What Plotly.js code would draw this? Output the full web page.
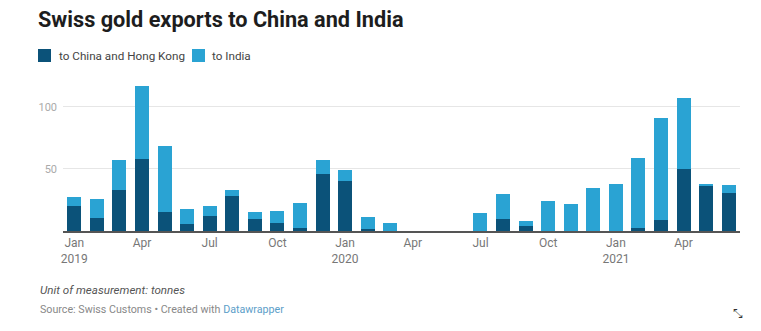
<!DOCTYPE html>
<html>
<head>
<meta charset="utf-8">
<script src="https://cdn.plot.ly/plotly-3.0.1.min.js"></script>
<style>html,body{margin:0;padding:0;background:#fff;}#chart{width:761px;height:331px;}</style>
</head>
<body>
<div id="chart"></div>
<script>
// Months Jan 2019 – Jun 2021
var months = ["2019-01","2019-02","2019-03","2019-04","2019-05","2019-06","2019-07","2019-08","2019-09","2019-10","2019-11","2019-12",
              "2020-01","2020-02","2020-03","2020-04","2020-05","2020-06","2020-07","2020-08","2020-09","2020-10","2020-11","2020-12",
              "2021-01","2021-02","2021-03","2021-04","2021-05","2021-06"];
// tonnes
var chinaHK = [20, 10.5, 33, 58, 15, 5.5, 12, 28, 10, 6.5, 2.5, 46,
               40, 2, 0.3, 0, 0, 0, 0, 10, 4, 0, 0, 0,
               0, 2.5, 9, 50, 36, 31];
var india   = [7, 15.5, 24, 59, 53.5, 12.5, 8, 5, 5, 10, 20, 11,
               9, 9, 6.2, 0, 0, 0, 14.5, 19.5, 4, 24, 21.5, 34.5,
               38, 56.5, 82, 57, 2, 6];
var seriesNames = ["to China and Hong Kong", "to India"];
var tickMonths = ["2019-01","2019-04","2019-07","2019-10","2020-01","2020-04","2020-07","2020-10","2021-01","2021-04"];
var tickLabels = ["Jan<br>2019","Apr","Jul","Oct","Jan<br>2020","Apr","Jul","Oct","Jan<br>2021","Apr"];
var yTicks = [50, 100];

var darkBlue = "#0b5279";
var lightBlue = "#2aa3d3";

var traces = [
  {type:"bar", name:seriesNames[0], x:months, y:chinaHK, marker:{color:darkBlue}, showlegend:false},
  {type:"bar", name:seriesNames[1], x:months, y:india, marker:{color:lightBlue}, showlegend:false}
];

var W = 761, H = 331, ML = 63, MR = 21, MT = 82, MB = 100;
var PW = W - ML - MR, PH = H - MT - MB;
function px(x){ return (x - ML) / PW; }
function py(y){ return (H - MB - y) / PH; }

// Custom legend (swatch + label)
var legendItems = [
  {color:darkBlue, label:seriesNames[0], sx:38, tx:57},
  {color:lightBlue, label:seriesNames[1], sx:192, tx:210}
];
var shapes = [], annotations = [];
legendItems.forEach(function(it){
  shapes.push({type:"rect", xref:"paper", yref:"paper", x0:px(it.sx), x1:px(it.sx+13), y0:py(62), y1:py(49),
               fillcolor:it.color, line:{width:0}});
  annotations.push({text:it.label, xref:"paper", yref:"paper", x:px(it.tx), y:py(55.5), xanchor:"left", yanchor:"middle",
                    showarrow:false, font:{size:11.7, color:"#444"}});
});
annotations.push(
  {text:"<i>Unit of measurement: tonnes</i>", xref:"paper", yref:"paper", x:px(38), y:py(290),
   xanchor:"left", yanchor:"middle", showarrow:false, font:{size:11.6, color:"#555"}},
  {text:"Source: Swiss Customs • Created with <span style='color:#5c9ec9'>Datawrapper</span>", xref:"paper", yref:"paper",
   x:px(38), y:py(309), xanchor:"left", yanchor:"middle", showarrow:false, font:{size:10.7, color:"#888"}},
  {text:"⤡", xref:"paper", yref:"paper", x:px(738), y:py(314), xanchor:"center", yanchor:"middle",
   showarrow:false, font:{size:12, color:"#333"}}
);

var layout = {
  width: W, height: H,
  margin: {l:ML, r:MR, t:MT, b:MB, pad:0},
  paper_bgcolor:"#fff", plot_bgcolor:"#fff",
  barmode:"stack", bargap:0.38,
  font:{family:"Roboto, 'Open Sans', sans-serif", color:"#333"},
  title:{text:"<b>Swiss gold exports to China and India</b>", font:{size:21.7, color:"#1d1d1d", family:"Roboto, sans-serif"},
         x:38/W, xanchor:"left", xref:"container", y:1-12/H, yanchor:"top", yref:"container"},
  showlegend:false,
  xaxis:{type:"category", categoryorder:"array", categoryarray:months,
         tickmode:"array", tickvals:tickMonths, ticktext:tickLabels,
         tickfont:{size:12, color:"#777"}, showgrid:false, zeroline:false,
         showline:true, linecolor:"#555", linewidth:1.5, ticks:"", fixedrange:true},
  yaxis:{range:[0,120], tickmode:"array", tickvals:yTicks, tickfont:{size:11, color:"#aaa"},
         showgrid:true, gridcolor:"#e6e6e6", gridwidth:1, zeroline:false, showline:false,
         ticks:"", ticklabelstandoff:5, fixedrange:true},
  shapes: shapes,
  annotations: annotations
};

Plotly.newPlot("chart", traces, layout, {displayModeBar:false, staticPlot:true});
</script>
</body>
</html>
